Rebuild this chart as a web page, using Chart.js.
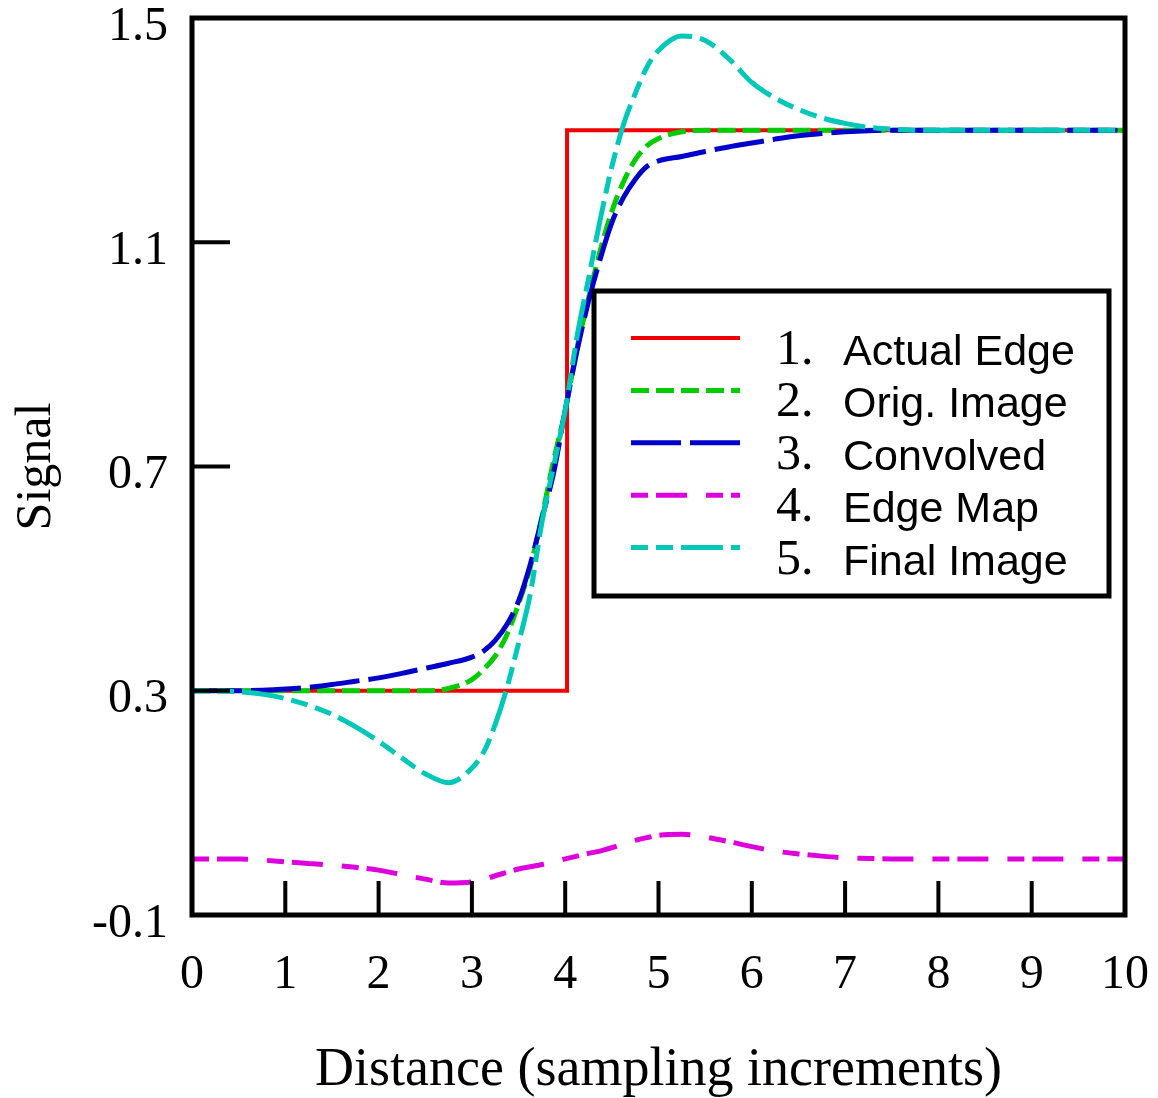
<!DOCTYPE html>
<html>
<head>
<meta charset="utf-8">
<script src="https://cdn.jsdelivr.net/npm/chart.js@4.4.1/dist/chart.umd.min.js"></script>
<style>
    html, body { margin: 0; padding: 0; background: #ffffff; }
    #wrap { width: 1158px; height: 1098px; position: relative; }
</style>
</head>
<body>
<div id="wrap"><canvas id="edgeChart"></canvas></div>
<script>
// Distance in sampling increments (finer steps around the edge)
const distance = [
    0, 0.25, 0.5, 0.75, 1, 1.25, 1.5, 1.75, 2, 2.25, 2.5, 2.75, 3,
    3.125, 3.25, 3.375, 3.5, 3.625, 3.75, 3.875, 4, 4.125, 4.25, 4.375, 4.5, 4.625, 4.75, 4.875, 5,
    5.25, 5.5, 5.75, 6, 6.25, 6.5, 6.75, 7, 7.25, 7.5, 7.75, 8, 8.25, 8.5, 8.75, 9, 9.25, 9.5, 9.75, 10
];

const actualEdgeX = [0, 4.02, 4.02, 10];
const actualEdgeY = [0.3, 0.3, 1.3, 1.3];

const origImage = [
    0.3, 0.3, 0.3, 0.3, 0.3, 0.3, 0.3, 0.3, 0.3, 0.3, 0.3, 0.304, 0.32,
    0.338, 0.362, 0.4, 0.455, 0.52, 0.61, 0.71, 0.8, 0.91, 1.0, 1.085, 1.155, 1.208, 1.247, 1.272, 1.285,
    1.297, 1.3, 1.3, 1.3, 1.3, 1.3, 1.3, 1.3, 1.3, 1.3, 1.3, 1.3, 1.3, 1.3, 1.3, 1.3, 1.3, 1.3, 1.3, 1.3
];

const convolved = [
    0.3, 0.3, 0.3, 0.301, 0.303, 0.306, 0.311, 0.317, 0.323, 0.331, 0.34, 0.349, 0.36,
    0.371, 0.39, 0.418, 0.46, 0.525, 0.607, 0.688, 0.8, 0.905, 0.995, 1.07, 1.135, 1.18, 1.212, 1.235, 1.245,
    1.253, 1.262, 1.27, 1.277, 1.284, 1.29, 1.294, 1.297, 1.299, 1.3, 1.3, 1.3, 1.3, 1.3, 1.3, 1.3, 1.3, 1.3, 1.3, 1.3
];

const edgeMap = [
    0, 0, 0, -0.002, -0.005, -0.008, -0.011, -0.015, -0.02, -0.028, -0.036, -0.043, -0.041,
    -0.037, -0.03, -0.024, -0.018, -0.014, -0.01, -0.005, 0, 0.005, 0.01, 0.014, 0.02, 0.027, 0.033, 0.038, 0.042,
    0.044, 0.039, 0.031, 0.022, 0.014, 0.009, 0.005, 0.002, 0.001, 0, 0, 0, 0, 0, 0, 0, 0, 0, 0, 0
];

const finalImage = [
    0.3, 0.3, 0.298, 0.294, 0.286, 0.274, 0.258, 0.236, 0.21, 0.18, 0.152, 0.136, 0.162,
    0.19, 0.24, 0.305, 0.385, 0.472, 0.6, 0.7, 0.8, 0.93, 1.035, 1.14, 1.235, 1.31, 1.365, 1.412, 1.442,
    1.468, 1.46, 1.428, 1.385, 1.357, 1.337, 1.322, 1.312, 1.305, 1.302, 1.3, 1.3, 1.3, 1.3, 1.3, 1.3, 1.3, 1.3, 1.3, 1.3
];

const seriesNames = ['Actual Edge', 'Orig. Image', 'Convolved', 'Edge Map', 'Final Image'];
const xTickLabels = [0, 1, 2, 3, 4, 5, 6, 7, 8, 9, 10];
const yTickLabels = [-0.1, 0.3, 0.7, 1.1, 1.5];
const xTickMarks = [1, 2, 3, 4, 5, 6, 7, 8, 9];
const yTickMarks = [0.3, 0.7, 1.1];

function toPoints(xs, ys) {
    return xs.map((x, i) => ({ x: x, y: ys[i] }));
}

// frame and inward tick marks
const framePlugin = {
    id: 'frame',
    afterDatasetsDraw(chart) {
        const { ctx, chartArea: a, scales } = chart;
        ctx.save();
        ctx.strokeStyle = '#000';
        ctx.lineWidth = 4;
        xTickMarks.forEach(v => {
            const px = scales.x.getPixelForValue(v);
            ctx.beginPath();
            ctx.moveTo(px, a.bottom);
            ctx.lineTo(px, a.bottom - 34);
            ctx.stroke();
        });
        yTickMarks.forEach(v => {
            const py = scales.y.getPixelForValue(v);
            ctx.beginPath();
            ctx.moveTo(a.left, py);
            ctx.lineTo(a.left + 38, py);
            ctx.stroke();
        });
        ctx.lineWidth = 5;
        ctx.strokeRect(a.left, a.top, a.right - a.left, a.bottom - a.top);
        ctx.restore();
    }
};

// boxed legend: serif numbers, sans labels
const legendPlugin = {
    id: 'boxLegend',
    afterDraw(chart) {
        const ctx = chart.ctx;
        const box = { left: 594, top: 291, width: 515, height: 305 };
        ctx.save();
        ctx.fillStyle = '#ffffff';
        ctx.fillRect(box.left, box.top, box.width, box.height);
        ctx.strokeStyle = '#000';
        ctx.lineWidth = 5;
        ctx.strokeRect(box.left, box.top, box.width, box.height);

        chart.data.datasets.forEach((ds, i) => {
            const rowY = 338 + i * 52.4;
            ctx.strokeStyle = ds.borderColor;
            ctx.lineWidth = ds.borderWidth;
            ctx.setLineDash(ds.borderDash || []);
            ctx.beginPath();
            ctx.moveTo(631, rowY);
            ctx.lineTo(740, rowY);
            ctx.stroke();
            ctx.setLineDash([]);

            ctx.fillStyle = '#000';
            ctx.textBaseline = 'alphabetic';
            ctx.textAlign = 'left';
            ctx.font = '50px "Liberation Serif"';
            ctx.fillText((i + 1) + '.', 776, rowY + 26);
            ctx.font = '43px "Liberation Sans"';
            ctx.fillText(ds.label, 843, rowY + 27);
        });
        ctx.restore();
    }
};

const ctx = document.getElementById('edgeChart').getContext('2d');

new Chart(ctx, {
    type: 'line',
    data: {
        datasets: [
            {
                label: seriesNames[0],
                data: toPoints(actualEdgeX, actualEdgeY),
                borderColor: '#f00000',
                borderWidth: 4,
                order: 5
            },
            {
                label: seriesNames[1],
                data: toPoints(distance, origImage),
                borderColor: '#00cc00',
                borderWidth: 5,
                borderDash: [18, 7],
                cubicInterpolationMode: 'monotone',
                order: 4
            },
            {
                label: seriesNames[2],
                data: toPoints(distance, convolved),
                borderColor: '#0000cc',
                borderWidth: 5,
                borderDash: [50, 9],
                cubicInterpolationMode: 'monotone',
                order: 3
            },
            {
                label: seriesNames[3],
                data: toPoints(distance, edgeMap),
                borderColor: '#dd00dd',
                borderWidth: 5,
                borderDash: [17, 8, 31, 19],
                cubicInterpolationMode: 'monotone',
                order: 2
            },
            {
                label: seriesNames[4],
                data: toPoints(distance, finalImage),
                borderColor: '#00c8b8',
                borderWidth: 5,
                borderDash: [17, 8, 17, 8, 42, 8],
                cubicInterpolationMode: 'monotone',
                order: 1
            }
        ]
    },
    options: {
        responsive: true,
        maintainAspectRatio: false,
        animation: false,
        elements: {
            point: { radius: 0 },
            line: { fill: false, borderCapStyle: 'butt' }
        },
        layout: {
            padding: { top: 18, right: 33, left: 0, bottom: 0 }
        },
        plugins: {
            legend: { display: false },
            tooltip: { enabled: false }
        },
        scales: {
            x: {
                type: 'linear',
                min: 0,
                max: 10,
                afterBuildTicks: axis => { axis.ticks = xTickLabels.map(v => ({ value: v })); },
                afterFit: scale => {
                    scale.height = 183;
                    scale.paddingLeft = 0;
                    scale.paddingRight = 0;
                },
                grid: { display: false, drawTicks: false },
                border: { display: false },
                ticks: {
                    color: '#000',
                    font: { family: '"Liberation Serif"', size: 48 },
                    padding: 32,
                    maxRotation: 0,
                    autoSkip: false
                },
                title: {
                    display: true,
                    text: 'Distance (sampling increments)',
                    color: '#000',
                    font: { family: '"Liberation Serif"', size: 54, lineHeight: 1 },
                    padding: { top: 0, bottom: 0 }
                }
            },
            y: {
                type: 'linear',
                min: -0.1,
                max: 1.5,
                afterBuildTicks: axis => { axis.ticks = yTickLabels.map(v => ({ value: v })); },
                afterFit: scale => {
                    scale.width = 192;
                    scale.paddingTop = 0;
                    scale.paddingBottom = 0;
                },
                grid: { display: false, drawTicks: false },
                border: { display: false },
                ticks: {
                    color: '#000',
                    font: { family: '"Liberation Serif"', size: 48 },
                    padding: 24,
                    labelOffset: 9,
                    autoSkip: false
                },
                title: {
                    display: true,
                    text: 'Signal',
                    color: '#000',
                    font: { family: '"Liberation Serif"', size: 50, lineHeight: 1 },
                    padding: { top: 12, bottom: 0 }
                }
            }
        }
    },
    plugins: [framePlugin, legendPlugin]
});
</script>
</body>
</html>
